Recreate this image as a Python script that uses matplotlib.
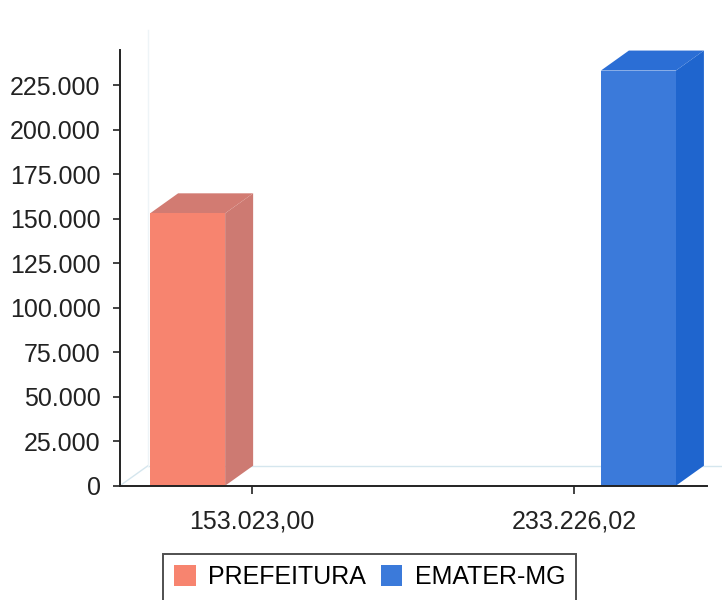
import matplotlib
matplotlib.use("Agg")
import matplotlib.pyplot as plt
from matplotlib.patches import Polygon, Patch
from matplotlib.ticker import FuncFormatter

categories = ["153.023,00", "233.226,02"]
series_names = ["PREFEITURA", "EMATER-MG"]
prefeitura = [153023.00, 0]
emater = [0, 233226.02]
yticks = [0, 25000, 50000, 75000, 100000, 125000, 150000, 175000, 200000, 225000]

front_colors = ["#F7846F", "#3B7ADA"]
side_colors = ["#CD7A72", "#1F65CE"]
top_colors = ["#D27B72", "#2B6ED5"]

plt.rcParams['font.family'] = ['Liberation Sans', 'DejaVu Sans']

fig = plt.figure(figsize=(7.22, 6.0), dpi=100)
ax = fig.add_axes([120/722, 1-485.7/600, (707-120)/722, (485.7-50)/600])
ax.set_xlim(-0.41, 1.413)
ax.set_ylim(0, 244775)

# depth of the 3D effect in pixels -> data units
fig.canvas.draw()
pw = ax.get_window_extent().width
ph = ax.get_window_extent().height
dx = 28 / pw * (1.413 + 0.41)
dy = 20 / ph * 244775

# faint floor / back wall lines
wall = "#D5E6EE"
ax.plot([-0.41, -0.41 + dx], [0, dy], color=wall, lw=1, zorder=1, clip_on=False)
ax.plot([-0.41 + dx, 1.413 + dx], [dy, dy], color=wall, lw=1, zorder=1, clip_on=False)
ax.plot([-0.41 + dx, -0.41 + dx], [dy, 244775 + dy], color="#EEF4F7", lw=1, zorder=1, clip_on=False)

width = 0.233
offsets = [-0.2, 0.2]
data = [prefeitura, emater]
for s, vals in enumerate(data):
    for c, v in enumerate(vals):
        if v <= 0:
            continue
        x0 = c + offsets[s] - width / 2
        x1 = x0 + width
        ax.bar(x0, v, width=width, align='edge', color=front_colors[s], zorder=3)
        side = Polygon([(x1, 0), (x1 + dx, dy), (x1 + dx, v + dy), (x1, v)],
                       closed=True, facecolor=side_colors[s], edgecolor='none', zorder=2, clip_on=False)
        top = Polygon([(x0, v), (x0 + dx, v + dy), (x1 + dx, v + dy), (x1, v)],
                      closed=True, facecolor=top_colors[s], edgecolor='none', zorder=2, clip_on=False)
        ax.add_patch(side)
        ax.add_patch(top)

ax.set_xticks(range(len(categories)))
ax.set_xticklabels(categories)
ax.set_yticks(yticks)
ax.yaxis.set_major_formatter(FuncFormatter(lambda v, p: "0" if v == 0 else f"{int(v):,}".replace(",", ".")))

for sp in ["top", "right"]:
    ax.spines[sp].set_visible(False)
for sp in ["left", "bottom"]:
    ax.spines[sp].set_color("#222222")
    ax.spines[sp].set_linewidth(1.4)
    ax.spines[sp].set_zorder(4)

ax.tick_params(axis='y', length=5, width=1.2, color="#222222", pad=9, labelsize=18, labelcolor="#222222")
ax.tick_params(axis='x', length=6, width=1.2, color="#222222", pad=11, labelsize=18, labelcolor="#222222")

handles = [Patch(facecolor=front_colors[i], edgecolor='none', label=series_names[i]) for i in range(2)]
leg = fig.legend(handles=handles, loc='upper left', bbox_to_anchor=(163/722, 1-554/600),
                 ncol=2, fontsize=18, frameon=True, fancybox=False, edgecolor="#222222",
                 borderpad=0.45, handlelength=0.85, handleheight=0.9, handletextpad=0.5,
                 columnspacing=0.6, borderaxespad=0)
leg.get_frame().set_linewidth(1.4)

fig.savefig("out.png", dpi=100, facecolor="white")
